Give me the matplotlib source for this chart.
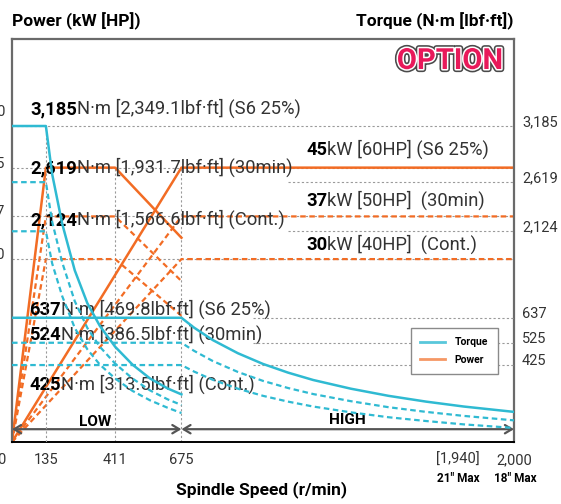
import matplotlib
matplotlib.use("Agg")
import matplotlib.pyplot as plt
import matplotlib.patheffects as pe
from matplotlib.lines import Line2D

FONT = ["Roboto", "DejaVu Sans"]
plt.rcParams["font.family"] = FONT

CYAN = "#2fbad2"
ORANGE = "#f26c24"
GRID = "#9a9a9a"

# low gear (0 - 675 r/min)
low_rpm = [0, 135, 160, 200, 250, 300, 350, 411, 480, 550, 620, 675]
low_torque_s6 = [3185, 3185, 2700, 2200, 1730, 1400, 1170, 960, 780, 640, 540, 480]
low_torque_30 = [2619, 2619, 2220, 1810, 1420, 1150, 960, 790, 640, 520, 430, 373]
low_torque_cont = [2124, 2124, 1800, 1470, 1150, 935, 780, 640, 515, 420, 345, 292]

low_pwr_rpm = [0, 135, 411, 675]
low_pwr_s6 = [0, 45, 45, 33.5]
low_pwr_30 = [0, 37, 37, 26.4]
low_pwr_cont = [0, 30, 30, 20.7]

# high gear (0 - 2000 r/min)
high_rpm = [0, 675, 725, 800, 900, 1000, 1100, 1200, 1350, 1500, 1650, 1800, 2000]
high_torque_s6 = [637, 637, 593, 537, 478, 430, 391, 358, 319, 287, 261, 239, 215]
high_torque_30 = [525, 525, 489, 443, 394, 354, 322, 295, 263, 236, 215, 197, 177]
high_torque_cont = [425, 425, 396, 359, 319, 287, 261, 239, 213, 191, 174, 159, 143]

high_pwr_rpm = [0, 675, 2000]
high_pwr_s6 = [0, 45, 45]
high_pwr_30 = [0, 37, 37]
high_pwr_cont = [0, 30, 30]

speed_ticks = [135, 411, 675, 2000]
speed_labels = ["135", "411", "675", "2,000"]
power_ticks = [45, 37, 30]
power_labels = ["45", "37", "30"]
torque_low_ticks = [3185, 2619, 2124]
torque_low_labels = ["3,185", "2,619", "2,124"]
torque_high_ticks = [637, 525, 425]
torque_high_labels = ["637", "525", "425"]

W, H = 561, 504
X0, X1, Y0, Y1 = 12, 514, 39, 442


def axpos(x, y):
    return ((x - X0) / (X1 - X0), (Y1 - y) / (Y1 - Y0))


def figpos(x, y):
    return (x / W, 1 - y / H)


fig = plt.figure(figsize=(W / 100, H / 100), dpi=100)
ax = fig.add_axes([X0 / W, 1 - Y1 / H, (X1 - X0) / W, (Y1 - Y0) / H])
ax_lo = ax.twinx()
ax_hi = ax.twinx()

ax.set_xlim(0, 2000)
ax.set_ylim(0, 66.1)
ax_lo.set_ylim(0, 4062)
ax_hi.set_ylim(80, 1887)
for a in (ax_lo, ax_hi):
    a.set_xlim(0, 2000)
    a.axis("off")

ax.set_xticks([])
ax.set_yticks([])
for s in ("left", "top", "right"):
    ax.spines[s].set_color("#6a6a6a")
    ax.spines[s].set_linewidth(1.6)
ax.spines["bottom"].set_color("black")
ax.spines["bottom"].set_linewidth(1.4)

# grid lines
gkw = dict(color=GRID, lw=0.8, linestyles=(0, (2, 2)), zorder=0)
ax_lo.hlines(3185, 0, 2000, **gkw)
ax.hlines(power_ticks, 0, 2000, **gkw)
ax_lo.hlines(torque_low_ticks[1:], 1100, 2000, **gkw)
ax_hi.hlines(torque_high_ticks, 960, 2000, **gkw)
ax_lo.vlines(135, 0, 3185, **gkw)
ax.vlines([411, 675], 0, 45, **gkw)

dash = (0, (2.5, 1.6))
# power
ax.plot(low_pwr_rpm, low_pwr_s6, color=ORANGE, lw=1.8)
ax.plot(low_pwr_rpm, low_pwr_30, color=ORANGE, lw=1.6, ls=dash)
ax.plot(low_pwr_rpm, low_pwr_cont, color=ORANGE, lw=1.6, ls=dash)
ax.plot(high_pwr_rpm, high_pwr_s6, color=ORANGE, lw=1.8)
ax.plot(high_pwr_rpm, high_pwr_30, color=ORANGE, lw=1.6, ls=dash)
ax.plot(high_pwr_rpm, high_pwr_cont, color=ORANGE, lw=1.6, ls=dash)
# torque
ax_lo.plot(low_rpm, low_torque_s6, color=CYAN, lw=1.8)
ax_lo.plot(low_rpm, low_torque_30, color=CYAN, lw=1.6, ls=dash)
ax_lo.plot(low_rpm, low_torque_cont, color=CYAN, lw=1.6, ls=dash)
ax_hi.plot(high_rpm, high_torque_s6, color=CYAN, lw=1.8)
ax_hi.plot(high_rpm, high_torque_30, color=CYAN, lw=1.6, ls=dash)
ax_hi.plot(high_rpm, high_torque_cont, color=CYAN, lw=1.6, ls=dash)

# LOW / HIGH range arrows
akw = dict(arrowstyle="<->,head_length=0.5,head_width=0.3", color="#555555", lw=1.6,
           shrinkA=0, shrinkB=0)
ax.annotate("", xy=(0, 2.1), xytext=(675, 2.1), arrowprops=akw)
ax.annotate("", xy=(675, 2.1), xytext=(2000, 2.1), arrowprops=akw)
ax.text(331, 3.3, "LOW", ha="center", va="center", fontsize=11, fontweight="bold")
ax.text(1335, 3.6, "HIGH", ha="center", va="center", fontsize=11, fontweight="bold")

# curve labels
labels = [
    (30, 114, "3,185", "N·m [2,349.1lbf·ft] (S6 25%)"),
    (30, 173, "2,619", "N·m [1,931.7lbf·ft] (30min)"),
    (30, 225, "2,124", "N·m [1,566.6lbf·ft] (Cont.)"),
    (306, 155, "45", "kW [60HP] (S6 25%)"),
    (306, 206, "37", "kW [50HP]  (30min)"),
    (306, 250, "30", "kW [40HP]  (Cont.)"),
    (29, 315, "637", "N·m [469.8lbf·ft] (S6 25%)"),
    (29, 340, "524", "N·m [386.5lbf·ft] (30min)"),
    (29, 390, "425", "N·m [313.5lbf·ft] (Cont.)"),
]
for x, y, b, rest in labels:
    t = ax.text(*axpos(x, y), b, transform=ax.transAxes, fontsize=13.2,
                fontweight="bold", va="baseline", ha="left", zorder=5)
    ax.annotate(rest, xy=(1, 0), xycoords=t, va="bottom", ha="left",
                fontsize=13.2, color="#333333", zorder=5)

# right torque labels
for v, lab in zip(torque_low_ticks, torque_low_labels):
    ax_lo.text(1.0 + 8 / 502, v, lab, transform=ax_lo.get_yaxis_transform(),
               fontsize=10.5, color="#333333", va="baseline")
for v, lab in zip(torque_high_ticks, torque_high_labels):
    ax_hi.text(1.0 + 8 / 502, v, lab, transform=ax_hi.get_yaxis_transform(),
               fontsize=10.5, color="#333333", va="baseline")

# left power labels (cut by figure edge, as in the original)
for v, lab in zip(power_ticks, power_labels):
    ax.text(-7 / 502, v, lab, transform=ax.get_yaxis_transform(),
            fontsize=10.5, color="#333333", va="baseline", ha="right")
fig.text(*figpos(6, 116), "50", fontsize=10.5, color="#333333", ha="right", va="baseline")

# x tick labels
for v, lab in zip(speed_ticks, speed_labels):
    ax.text(v, -18 / 403, lab, transform=ax.get_xaxis_transform(), ha="center",
            va="center", fontsize=10.5, color="#333333")
fig.text(*figpos(1, 460), "0", ha="center", va="center", fontsize=10.5, color="#333333")
fig.text(*figpos(458, 460), "[1,940]", ha="center", va="center", fontsize=10.5, color="#333333")
fig.text(*figpos(458, 479), "21\" Max", ha="center", va="center", fontsize=8.5, fontweight="bold")
fig.text(*figpos(515, 479), "18\" Max", ha="center", va="center", fontsize=8.5, fontweight="bold")

fig.text(*figpos(262, 490), "Spindle Speed (r/min)", ha="center", va="center",
         fontsize=12.5, fontweight="bold")
fig.text(*figpos(12, 21), "Power (kW [HP])", ha="left", va="center", fontsize=12.5,
         fontweight="bold")
fig.text(*figpos(514, 21), "Torque (N·m [lbf·ft])", ha="right", va="center",
         fontsize=12.5, fontweight="bold")

opt = fig.text(*figpos(450, 61), "OPTION", ha="center", va="center", fontsize=21,
               fontweight="bold", color="#e8195a")
opt.set_path_effects([pe.Stroke(linewidth=4.5, foreground="#4a4a4a"),
                      pe.Stroke(linewidth=2.2, foreground="white"), pe.Normal()])

handles = [Line2D([], [], color=CYAN, lw=2, alpha=0.8, label="Torque"),
           Line2D([], [], color=ORANGE, lw=2, alpha=0.7, label="Power")]
leg = ax_hi.legend(handles=handles, loc="upper left", bbox_to_anchor=axpos(411, 328),
                   bbox_transform=ax.transAxes, fancybox=False, edgecolor="#8a8a8a",
                   prop={"weight": "bold", "size": 7.5}, handlelength=2.4,
                   handletextpad=0.9, borderpad=0.9, labelspacing=0.7,
                   borderaxespad=0, framealpha=1)
leg.get_frame().set_linewidth(1.0)

fig.savefig("out.png", dpi=100)
